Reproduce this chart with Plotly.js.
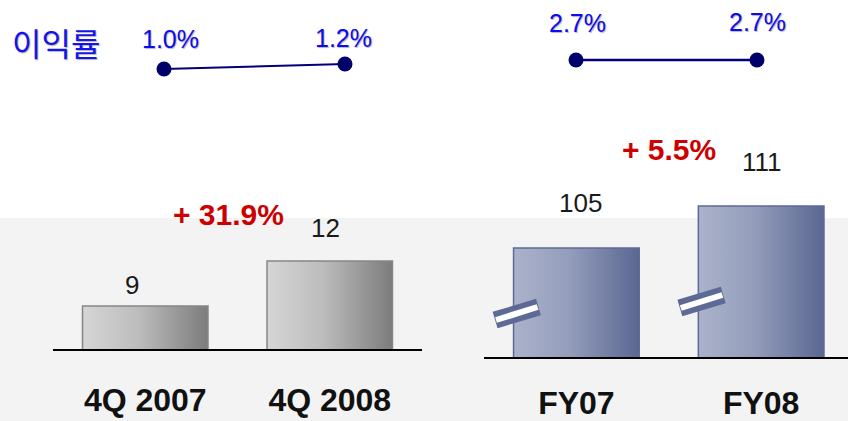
<!DOCTYPE html>
<html>
<head>
<meta charset="utf-8">
<script src="https://cdn.plot.ly/plotly-3.0.1.min.js"></script>
<style>html,body{margin:0;padding:0;background:#fff}#chart{width:848px;height:421px}</style>
</head>
<body>
<div id="chart"></div>
<script>
// ---- data ----
const quarterCats = ['4Q 2007', '4Q 2008'];
const quarterValues = [9, 12];
const quarterMargins = [1.0, 1.2];
const quarterMarginLabels = ['1.0%', '1.2%'];
const quarterChange = '+ 31.9%';

const yearCats = ['FY07', 'FY08'];
const yearValues = [105, 111];
const yearMargins = [2.7, 2.7];
const yearMarginLabels = ['2.7%', '2.7%'];
const yearChange = '+ 5.5%';

const marginTitle = '이익률';

// ---- layout helpers (pixel -> paper) ----
const W = 848, H = 421;
const px = v => v / W;
const py = v => (H - v) / H;

const FONT = 'Liberation Sans, Arial, sans-serif';
const BLUE_TXT = '#0c0cf0';
const NAVY = '#000078';

const traces = [
  { type: 'bar', x: quarterCats, y: quarterValues, xaxis: 'x', yaxis: 'y', width: 0.68,
    marker: { color: '#aaaaaa', line: { color: '#868686', width: 1.5 } }, hoverinfo: 'none' },
  { type: 'bar', x: yearCats, y: yearValues, xaxis: 'x2', yaxis: 'y2', width: 0.68,
    marker: { color: '#8a94b4', line: { color: '#5d6a96', width: 1.5 } }, hoverinfo: 'none' },
  { type: 'scatter', mode: 'lines+markers', x: quarterCats, y: quarterMargins, xaxis: 'x3', yaxis: 'y3',
    line: { color: NAVY, width: 2 }, marker: { color: '#00006a', size: 15 }, cliponaxis: false, hoverinfo: 'none' },
  { type: 'scatter', mode: 'lines+markers', x: yearCats, y: yearMargins, xaxis: 'x4', yaxis: 'y4',
    line: { color: NAVY, width: 2.5 }, marker: { color: '#00006a', size: 15 }, cliponaxis: false, hoverinfo: 'none' }
];

const catTick = { family: FONT, size: 32, color: '#111', weight: 'bold' };

// label offsets (px)
const qValOff = [[-13, 21], [-4, 33]];
const yValOff = [[4, 45], [1, 44]];
const qPctOff = [[6, 30], [-2, 26]];
const yPctOff = [[1, 37], [0, 38]];

const annotations = [];
quarterCats.forEach((c, i) => annotations.push({
  xref: 'x', yref: 'y', x: c, y: quarterValues[i], text: String(quarterValues[i]), showarrow: false,
  xanchor: 'center', yanchor: 'middle',
  xshift: qValOff[i][0], yshift: qValOff[i][1], font: { family: FONT, size: 26, color: '#1a1a1a' }
}));
yearCats.forEach((c, i) => annotations.push({
  xref: 'x2', yref: 'y2', x: c, y: yearValues[i], text: String(yearValues[i]), showarrow: false,
  xanchor: 'center', yanchor: 'middle',
  xshift: yValOff[i][0], yshift: yValOff[i][1], font: { family: FONT, size: 26, color: '#1a1a1a' }
}));
quarterCats.forEach((c, i) => annotations.push({
  xref: 'x3', yref: 'y3', x: c, y: quarterMargins[i], text: quarterMarginLabels[i], showarrow: false,
  xanchor: 'center', yanchor: 'middle',
  xshift: qPctOff[i][0], yshift: qPctOff[i][1],
  font: { family: FONT, size: 25, color: BLUE_TXT, shadow: '1px 1px 1px rgba(0,0,0,0.3)' }
}));
yearCats.forEach((c, i) => annotations.push({
  xref: 'x4', yref: 'y4', x: c, y: yearMargins[i], text: yearMarginLabels[i], showarrow: false,
  xanchor: 'center', yanchor: 'middle',
  xshift: yPctOff[i][0], yshift: yPctOff[i][1],
  font: { family: FONT, size: 25, color: BLUE_TXT, shadow: '1px 1px 1px rgba(0,0,0,0.3)' }
}));
annotations.push({ xref: 'paper', yref: 'paper', x: px(228), y: py(215), text: quarterChange, showarrow: false,
  xanchor: 'center', yanchor: 'middle',
  font: { family: FONT, size: 30, color: '#cc0000', weight: 'bold' } });
annotations.push({ xref: 'paper', yref: 'paper', x: px(669), y: py(150), text: yearChange, showarrow: false,
  xanchor: 'center', yanchor: 'middle',
  font: { family: FONT, size: 30, color: '#cc0000', weight: 'bold' } });
annotations.push({ xref: 'paper', yref: 'paper', x: px(56), y: py(42), text: marginTitle, showarrow: false,
  xanchor: 'center', yanchor: 'middle',
  font: { family: 'Noto Sans CJK KR, sans-serif', size: 32, color: '#1414ee', shadow: '1px 1px 1px rgba(0,0,0,0.3)' } });

// background band and axis-break marks on the right-panel bars
const shapes = [
  { type: 'rect', xref: 'paper', yref: 'paper', x0: 0, x1: 1, y0: 0, y1: py(218), layer: 'below',
    fillcolor: '#f3f3f3', line: { width: 0 } }
];
yearCats.forEach((c, i) => {
  const yBase = [[320, 307], [308, 295]][i];
  const x0 = i - 0.44, x1 = i - 0.205;
  shapes.push({ type: 'line', xref: 'x2', yref: 'paper', x0: x0, x1: x1, y0: py(yBase[0]), y1: py(yBase[1]),
    line: { color: '#5d6a96', width: 17 } });
  shapes.push({ type: 'line', xref: 'x2', yref: 'paper', x0: x0 + 0.005, x1: x1 - 0.005, y0: py(yBase[0]), y1: py(yBase[1]),
    line: { color: '#ffffff', width: 6 } });
});

const hidden = { visible: false, showgrid: false, zeroline: false, fixedrange: true };

const layout = {
  width: W, height: H, margin: { l: 0, r: 0, t: 0, b: 0, pad: 0 },
  paper_bgcolor: '#ffffff', plot_bgcolor: 'rgba(0,0,0,0)', showlegend: false, bargap: 0,
  xaxis: { domain: [px(53), px(422)], anchor: 'y', type: 'category', range: [-0.5, 1.5],
    showline: true, linecolor: '#000', linewidth: 2, ticks: '', showgrid: false, zeroline: false,
    tickfont: catTick, ticklabelstandoff: 22, fixedrange: true },
  yaxis: Object.assign({ domain: [py(349), py(150)], anchor: 'x', range: [6.13, 6.13 + 199 / 15] }, hidden),
  xaxis2: { domain: [px(484), 1], anchor: 'y2', type: 'category', range: [-0.5, 1.47],
    showline: true, linecolor: '#000', linewidth: 2, ticks: '', showgrid: false, zeroline: false,
    tickfont: catTick, ticklabelstandoff: 17, fixedrange: true },
  yaxis2: Object.assign({ domain: [py(357), py(130)], anchor: 'x2', range: [89.43, 89.43 + 227 / 7] }, hidden),
  xaxis3: Object.assign({ domain: [px(73.5), px(435.5)], anchor: 'y3', type: 'category', range: [-0.5, 1.5] }, hidden),
  yaxis3: Object.assign({ domain: [py(94), py(44)], anchor: 'x3', range: [0, 2] }, hidden),
  xaxis4: Object.assign({ domain: [px(485.5), px(847.5)], anchor: 'y4', type: 'category', range: [-0.5, 1.5] }, hidden),
  yaxis4: Object.assign({ domain: [py(94), py(44)], anchor: 'x4', range: [1.34, 3.34] }, hidden),
  annotations: annotations,
  shapes: shapes
};

Plotly.newPlot('chart', traces, layout, { displayModeBar: false, staticPlot: true }).then(gd => {
  const svg = gd.querySelector('svg.main-svg');
  const NS = 'http://www.w3.org/2000/svg';
  let defs = svg.querySelector('defs');
  if (!defs) { defs = document.createElementNS(NS, 'defs'); svg.insertBefore(defs, svg.firstChild); }
  function grad(id, stops) {
    const g = document.createElementNS(NS, 'linearGradient');
    g.setAttribute('id', id); g.setAttribute('x1', '0'); g.setAttribute('x2', '1');
    g.setAttribute('y1', '0'); g.setAttribute('y2', '0');
    stops.forEach(s => {
      const st = document.createElementNS(NS, 'stop');
      st.setAttribute('offset', s[0]); st.setAttribute('stop-color', s[1]);
      g.appendChild(st);
    });
    defs.appendChild(g);
  }
  grad('gGray', [[0, '#d6d6d6'], [0.45, '#bcbcbc'], [1, '#7c7c7c']]);
  grad('gBlue', [[0, '#abb3cb'], [0.45, '#939cba'], [1, '#5b6792']]);
  const barTraces = gd.querySelectorAll('.barlayer .trace');
  if (barTraces[0]) barTraces[0].querySelectorAll('path').forEach(p => { p.style.fill = 'url(#gGray)'; });
  if (barTraces[1]) barTraces[1].querySelectorAll('path').forEach(p => { p.style.fill = 'url(#gBlue)'; });
});
</script>
</body>
</html>
